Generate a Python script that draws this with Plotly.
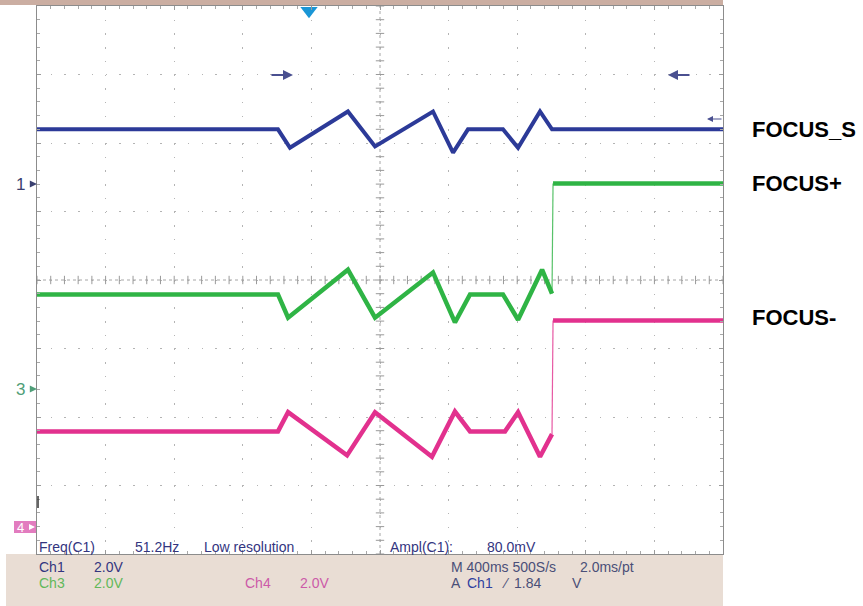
import numpy as np
import plotly.graph_objects as go

# ---------------- data (screen time in ms, 400 ms/div; amplitude in screen divisions) -------------
time_ms_s = [0, 1405, 1475, 1813, 1971, 2309, 2426, 2513, 2717, 2805, 2933, 3003, 4000]
focus_s = [2.20, 2.20, 1.93, 2.46, 1.95, 2.46, 1.86, 2.20, 2.20, 1.93, 2.46, 2.20, 2.20]

time_ms_p = [0, 1405, 1464, 1813, 1971, 2309, 2437, 2525, 2717, 2805, 2945, 3003, 3009, 4000]
focus_plus = [-0.21, -0.21, -0.55, 0.15, -0.55, 0.11, -0.62, -0.21, -0.21, -0.58, 0.15, -0.20, 1.41, 1.41]

time_ms_m = [0, 1405, 1464, 1808, 1971, 2303, 2437, 2525, 2729, 2805, 2933, 3003, 3009, 4000]
focus_minus = [-2.21, -2.21, -1.93, -2.56, -1.93, -2.58, -1.92, -2.21, -2.21, -1.93, -2.58, -2.25, -0.59, -0.59]

step_index = 12          # first sample after the fast edge (FOCUS+ / FOCUS-)
trigger_ms = 1586
trace_labels = ["FOCUS_S", "FOCUS+", "FOCUS-"]
label_levels = [2.20, 1.41, -0.55]

BLUE, GREEN, PINK = "#2c3a98", "#2fb445", "#e2318e"
NAVY = "#33357f"
FONT = "Liberation Sans, Arial, sans-serif"

W, H = 863, 606
L, R, T, B = 37, 140, 6, 52
PW, PH = W - L - R, H - T - B


def px(xp):
    return (xp - L) / PW


def py(yp):
    return (H - B - yp) / PH


fig = go.Figure()

# center graticule tick marks
fig.add_trace(go.Scatter(x=np.arange(0, 4001, 80), y=np.zeros(51), mode="markers",
                         marker=dict(symbol="line-ns", size=6, line=dict(width=1, color="#9a9a9a")),
                         hoverinfo="skip", showlegend=False))
fig.add_trace(go.Scatter(x=np.full(41, 2000), y=np.linspace(-4, 4, 41), mode="markers",
                         marker=dict(symbol="line-ew", size=6, line=dict(width=1, color="#9a9a9a")),
                         hoverinfo="skip", showlegend=False))

# FOCUS_S
fig.add_trace(go.Scatter(x=time_ms_s, y=focus_s, mode="lines",
                         line=dict(color=BLUE, width=4), hoverinfo="skip", showlegend=False))

# FOCUS+ / FOCUS- (thick parts + thin fast edge)
for t, v, c in [(time_ms_p, focus_plus, GREEN), (time_ms_m, focus_minus, PINK)]:
    fig.add_trace(go.Scatter(x=t[:step_index], y=v[:step_index], mode="lines",
                             line=dict(color=c, width=4.5), hoverinfo="skip", showlegend=False))
    fig.add_trace(go.Scatter(x=t[step_index - 1:step_index + 1], y=v[step_index - 1:step_index + 1],
                             mode="lines", line=dict(color=c, width=1.2), opacity=0.8,
                             hoverinfo="skip", showlegend=False))
    fig.add_trace(go.Scatter(x=t[step_index:], y=v[step_index:], mode="lines",
                             line=dict(color=c, width=4.5), hoverinfo="skip", showlegend=False))

# trigger position marker
fig.add_trace(go.Scatter(x=[trigger_ms], y=[3.93], mode="markers",
                         marker=dict(symbol="triangle-down", size=15, color="#1a96d6"),
                         hoverinfo="skip", showlegend=False))

grid = dict(showgrid=True, gridcolor="#b4b4b4", gridwidth=1, zeroline=False,
            showline=True, linecolor="#8c8c8c", linewidth=1, mirror="allticks",
            ticks="inside", ticklen=4, tickcolor="#9a9a9a", showticklabels=False)

fig.update_xaxes(range=[0, 4000], dtick=400, tick0=0, griddash="1.5px,12.2px",
                 minor=dict(dtick=80, ticks="inside", ticklen=3, tickcolor="#a8a8a8", showgrid=False),
                 **grid)
fig.update_yaxes(range=[-4, 4], dtick=1, tick0=0, griddash="1.5px,12.22px",
                 minor=dict(dtick=0.2, ticks="inside", ticklen=3, tickcolor="#a8a8a8", showgrid=False),
                 **grid)

shapes = [
    # top brownish band
    dict(type="rect", xref="paper", yref="paper", x0=px(0), x1=1, y0=py(5), y1=py(0),
         fillcolor="#cbaea2", line=dict(width=0), layer="below"),
    # bottom status panel
    dict(type="rect", xref="paper", yref="paper", x0=px(6), x1=1, y0=py(606), y1=0,
         fillcolor="#e9ddd4", line=dict(width=0), layer="below"),
    # center cross lines
    dict(type="line", xref="x", yref="y", x0=2000, x1=2000, y0=-4, y1=4,
         line=dict(color="#a6a6a6", width=1, dash="dot"), layer="below"),
    dict(type="line", xref="x", yref="y", x0=0, x1=4000, y0=0, y1=0,
         line=dict(color="#a6a6a6", width=1, dash="dot"), layer="below"),
    # channel 4 marker box
    dict(type="rect", xref="paper", yref="paper", x0=px(14), x1=px(36), y0=py(533), y1=py(521),
         fillcolor="#e27cbf", line=dict(width=0)),
    # small cursor tick
    dict(type="line", xref="paper", yref="paper", x0=px(38), x1=px(38), y0=py(508), y1=py(496),
         line=dict(color="#333333", width=1.5)),
]

ann = []


def txt(x, y, s, color=NAVY, size=14, anchor="left"):
    ann.append(dict(x=px(x), y=py(y), xref="paper", yref="paper", text=s,
                    showarrow=False, xanchor=anchor, yanchor="middle",
                    font=dict(family=FONT, size=size, color=color)))


def arrow(head, tail, yy, color, w, hs=1.0):
    ann.append(dict(x=px(head), y=py(yy), xref="paper", yref="paper", text="",
                    showarrow=True, ax=tail - head, ay=0, arrowhead=2, arrowsize=hs,
                    arrowwidth=w, arrowcolor=color, standoff=0, startstandoff=0))


# measurement line inside the graticule
txt(37, 547, "Freq(C1)")
txt(133, 547, "51.2Hz")
txt(202, 547, "Low resolution")
txt(388, 547, "Ampl(C1):")
txt(485, 547, "80.0mV")
# status panel
txt(37, 567, "Ch1")
txt(92, 567, "2.0V")
txt(37, 583, "Ch3", color="#62b85a")
txt(92, 583, "2.0V", color="#62b85a")
txt(243, 583, "Ch4", color="#cc5aa8")
txt(298, 583, "2.0V", color="#cc5aa8")
txt(449, 567, "M 400ms 500S/s", color="#4a4f78")
txt(578, 567, "2.0ms/pt", color="#4a4f78")
txt(449, 583, "A", color="#4a4f78")
txt(465, 583, "Ch1", color="#2f3fa0")
txt(500, 583, "⁄", color="#4a4f78")
txt(512, 583, "1.84", color="#4a4f78")
txt(570, 583, "V", color="#4a4f78")
# channel ground markers
txt(27, 184, "1", color="#3a4070", size=17, anchor="right")
arrow(37, 29, 184, "#3a4070", 1.2, 1.2)
txt(27, 389, "3", color="#4f9e78", size=17, anchor="right")
arrow(37, 29, 389, "#4f9e78", 1.2, 1.2)
txt(26, 527, "4", color="#ffffff", size=13, anchor="right")
arrow(35, 28, 527, "#ffffff", 1.2, 1.0)
# trace labels on the right
for name, lvl in zip(trace_labels, label_levels):
    ann.append(dict(x=px(750), y=lvl, xref="paper", yref="y", text=f"<b>{name}</b>",
                    showarrow=False, xanchor="left", yanchor="middle",
                    font=dict(family=FONT, size=22, color="#000000")))

# cursor arrows
arrow(293, 270, 75, "#4a5090", 2)
arrow(668, 691, 75, "#4a5090", 2)
arrow(707, 723, 119, "#4a5090", 1.2)

fig.update_layout(width=W, height=H, margin=dict(l=L, r=R, t=T, b=B),
                  paper_bgcolor="#ffffff", plot_bgcolor="#ffffff",
                  shapes=shapes, annotations=ann, showlegend=False, hovermode=False)

fig.write_html("out.html", config={"displayModeBar": False},
               post_script="document.body.style.margin='0';")
